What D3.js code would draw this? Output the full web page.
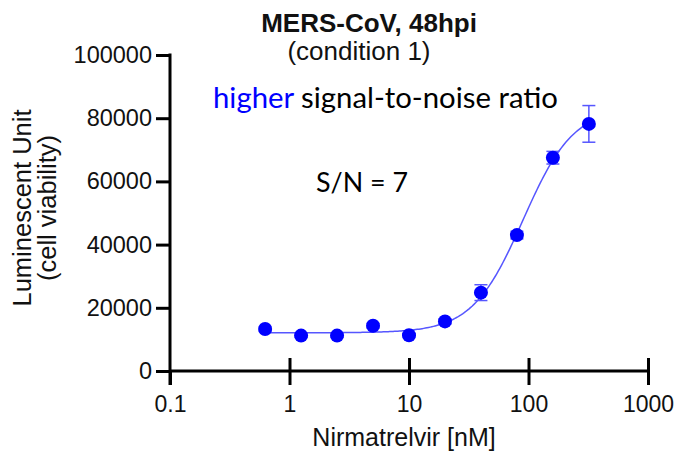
<!DOCTYPE html>
<html>
<head>
<meta charset="utf-8">
<script src="https://cdn.jsdelivr.net/npm/d3@7"></script>
<style>
  body { margin: 0; background: #fff; }
  svg { display: block; }
</style>
</head>
<body>
<svg id="chart" width="677" height="461"></svg>
<script>
// nirmatrelvir dose (nM), 2-fold dilution series
const doses = [0.625, 1.25, 2.5, 5, 10, 20, 40, 80, 160, 320];
// luminescence mean and SD
const lumMean = [13300, 11200, 11200, 14300, 11300, 15700, 24800, 43000, 67500, 78200];
const lumSd = [600, 500, 500, 700, 500, 800, 2500, 1200, 2000, 5800];

const xTicks = [0.1, 1, 10, 100, 1000];
const yTicks = [0, 20000, 40000, 60000, 80000, 100000];

// 4PL fit
const fitBottom = 12100;
const fitTop = 83500;
const fitEc50 = 90;
const fitHill = 2.05;

const blue = '#0000ff';
const lineBlue = '#5656ff';

const svg = d3.select('#chart');

const x = d3.scaleLog().domain([0.1, 1000]).range([170, 648]);
const y = d3.scaleLinear().domain([0, 100000]).range([371, 55]);

const axisFont = '"Liberation Sans", Arial, sans-serif';
const noteFont = 'Lato, "Open Sans", sans-serif';

// y axis
const yAxis = svg.append('g')
  .attr('transform', `translate(${x(0.1)},0)`)
  .call(d3.axisLeft(y).tickValues(yTicks).tickSize(14).tickPadding(4).tickFormat(d3.format('d')));
yAxis.select('.domain').remove();
yAxis.selectAll('.tick line').attr('stroke', '#000').attr('stroke-width', 3);
yAxis.selectAll('.tick text')
  .attr('font-family', axisFont)
  .attr('font-size', 23.5)
  .attr('fill', '#111');
yAxis.append('line')
  .attr('x1', 0).attr('x2', 0)
  .attr('y1', y(100000) - 1.5).attr('y2', y(0) + 14)
  .attr('stroke', '#000').attr('stroke-width', 3);

// x axis
const xAxis = svg.append('g')
  .attr('transform', `translate(0,${y(0)})`)
  .call(d3.axisBottom(x).tickValues(xTicks).tickSize(14).tickPadding(11).tickFormat(d => String(d)));
xAxis.select('.domain').remove();
xAxis.append('line')
  .attr('x1', x(0.1)).attr('x2', x(1000) + 1.5)
  .attr('y1', 0).attr('y2', 0)
  .attr('stroke', '#000').attr('stroke-width', 3);
xAxis.selectAll('.tick line')
  .attr('y1', (d) => d === 0.1 ? 0 : -13)
  .attr('y2', 14)
  .attr('stroke', '#000').attr('stroke-width', 3);
xAxis.selectAll('.tick text')
  .attr('font-family', axisFont)
  .attr('font-size', 23)
  .attr('fill', '#111');

// fitted curve
const fit = (d) => fitBottom + (fitTop - fitBottom) / (1 + Math.pow(fitEc50 / d, fitHill));
const curveX = d3.range(0, 201).map(i => doses[0] * Math.pow(doses[doses.length - 1] / doses[0], i / 200));
svg.append('path')
  .datum(curveX)
  .attr('fill', 'none')
  .attr('stroke', lineBlue)
  .attr('stroke-width', 1.5)
  .attr('d', d3.line().x(d => x(d)).y(d => y(fit(d))));

// error bars
const pts = doses.map((d, i) => ({ dose: d, mean: lumMean[i], sd: lumSd[i] }));
const bars = svg.append('g')
  .attr('stroke', lineBlue)
  .attr('stroke-width', 1.5);
pts.forEach((p) => {
  const cx = x(p.dose);
  bars.append('line').attr('x1', cx).attr('x2', cx)
    .attr('y1', y(p.mean + p.sd)).attr('y2', y(p.mean - p.sd));
  [p.mean + p.sd, p.mean - p.sd].forEach((v) => {
    bars.append('line').attr('x1', cx - 6.5).attr('x2', cx + 6.5)
      .attr('y1', y(v)).attr('y2', y(v));
  });
});

// points
svg.append('g')
  .selectAll('circle')
  .data(pts)
  .join('circle')
  .attr('cx', d => x(d.dose))
  .attr('cy', d => y(d.mean))
  .attr('r', 7)
  .attr('fill', blue);

// titles
svg.append('text')
  .attr('x', 369).attr('y', 32)
  .attr('text-anchor', 'middle')
  .attr('font-family', axisFont)
  .attr('font-weight', 'bold')
  .attr('font-size', 26)
  .attr('fill', '#111')
  .text('MERS-CoV, 48hpi');
svg.append('text')
  .attr('x', 359).attr('y', 60)
  .attr('text-anchor', 'middle')
  .attr('font-family', axisFont)
  .attr('font-size', 26)
  .attr('fill', '#111')
  .text('(condition 1)');

// axis labels
svg.append('text')
  .attr('x', 404).attr('y', 446)
  .attr('text-anchor', 'middle')
  .attr('font-family', axisFont)
  .attr('font-size', 25)
  .attr('fill', '#111')
  .text('Nirmatrelvir [nM]');

const yLab = svg.append('text')
  .attr('transform', 'translate(31,208) rotate(-90)')
  .attr('text-anchor', 'middle')
  .attr('font-family', axisFont)
  .attr('font-size', 25.5)
  .attr('fill', '#111');
yLab.append('tspan').attr('x', 0).attr('y', 0).text('Luminescent Unit');
yLab.append('tspan').attr('x', 0).attr('y', 25).text('(cell viability)');

// annotations
const note = svg.append('text')
  .attr('x', 213).attr('y', 108)
  .attr('font-family', noteFont)
  .attr('font-size', 28)
  .attr('textLength', 345)
  .attr('lengthAdjust', 'spacingAndGlyphs')
  .attr('fill', '#000');
note.append('tspan').attr('fill', blue).text('higher');
note.append('tspan').text(' signal-to-noise ratio');

svg.append('text')
  .attr('x', 316).attr('y', 192)
  .attr('font-family', noteFont)
  .attr('font-size', 27)
  .attr('textLength', 92)
  .attr('lengthAdjust', 'spacingAndGlyphs')
  .attr('fill', '#000')
  .text('S/N = 7');
</script>
</body>
</html>
